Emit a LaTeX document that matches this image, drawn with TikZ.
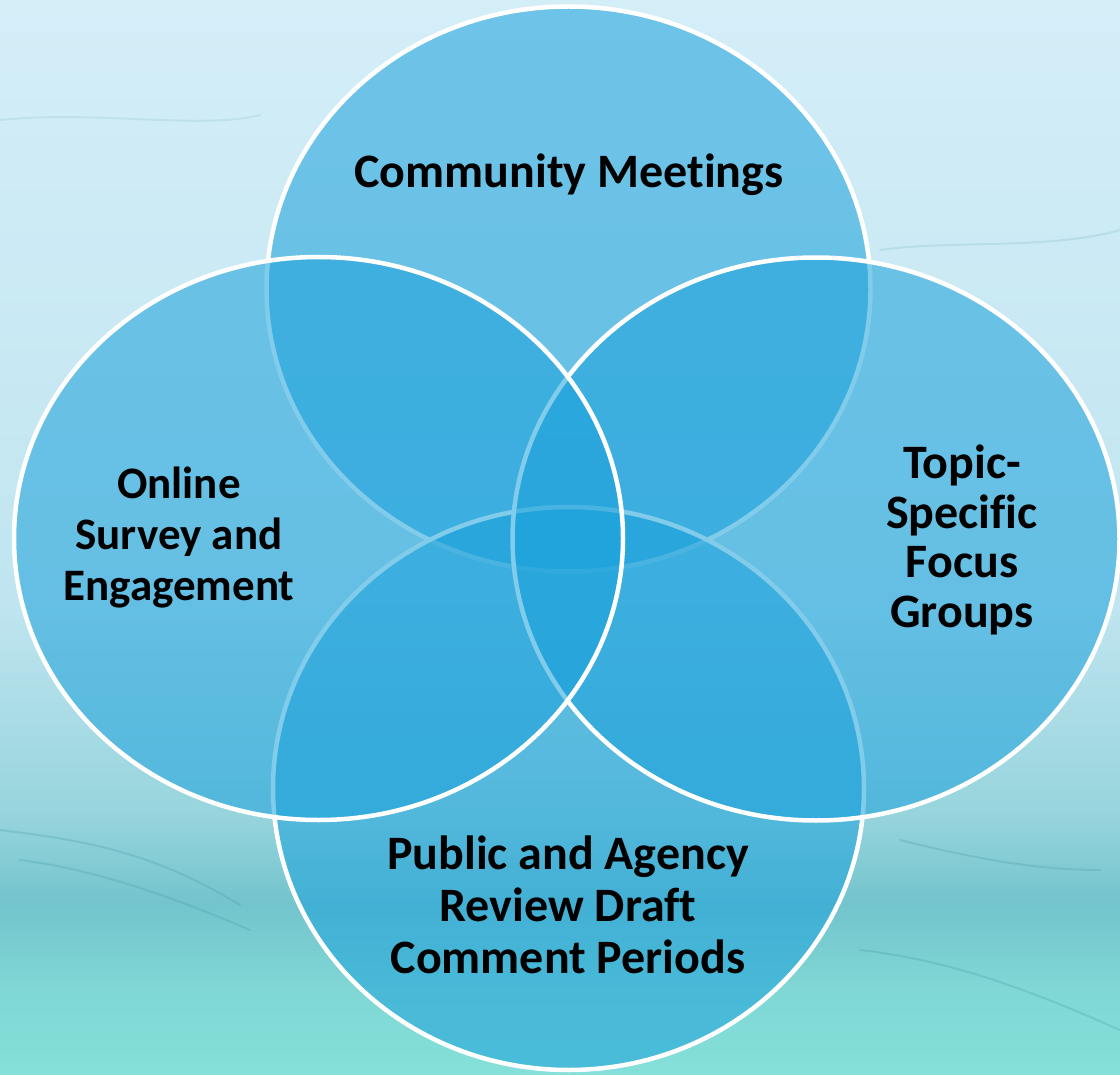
\documentclass[tikz,border=0pt]{standalone}
\usepackage{fontspec}
\setmainfont{Carlito}[Ligatures=NoCommon]
\usetikzlibrary{shapes.geometric}
\definecolor{circfill}{RGB}{27,161,219}
\definecolor{streak}{RGB}{70,150,165}
\definecolor{bgA}{RGB}{132,224,216}
\definecolor{bgB}{RGB}{128,215,212}
\definecolor{bgC}{RGB}{115,196,205}
\definecolor{bgD}{RGB}{150,212,220}
\definecolor{bgE}{RGB}{192,229,240}
\definecolor{bgF}{RGB}{212,238,248}
\pgfdeclareverticalshading{bgshade}{100bp}{%
  color(0bp)=(bgA); color(25bp)=(bgA); color(29bp)=(bgB); color(33bp)=(bgC);
  color(37bp)=(bgD); color(47bp)=(bgE); color(75bp)=(bgF); color(100bp)=(bgF)}
\begin{document}
\begin{tikzpicture}[x=1pt,y=-1pt,
  venn/.style={ellipse, inner sep=0pt, draw=white, line width=4.5pt,
    fill=circfill, fill opacity=0.55, draw opacity=1},
  lbl/.style={font=\bfseries\fontsize{48}{52}\selectfont, align=center, text=black},
  wave/.style={draw=streak, line width=2pt, draw opacity=0.25, line cap=round}]
\useasboundingbox (0,0) rectangle (1120,1075);
% background
\shade[shading=bgshade] (0,0) rectangle (1120,1075);
\draw[wave] (0,830) .. controls (80,840) and (150,850) .. (240,905);
\draw[wave] (20,860) .. controls (100,870) and (180,900) .. (250,930);
\draw[wave] (900,840) .. controls (980,860) and (1040,870) .. (1100,870);
\draw[wave] (860,950) .. controls (950,960) and (1030,990) .. (1120,1030);
\draw[wave, draw opacity=0.15] (880,250) .. controls (950,240) and (1050,250) .. (1120,230);
\draw[wave, draw opacity=0.12] (0,120) .. controls (100,110) and (200,130) .. (260,115);
% circles
\node[venn, minimum width=604pt, minimum height=565pt] (top) at (568.5,289) {};
\node[venn, minimum width=591pt, minimum height=563pt] (bottom) at (568.5,788.5) {};
\node[venn, minimum width=607pt, minimum height=563pt] (right) at (816,539) {};
\node[venn, minimum width=609pt, minimum height=563pt] (left) at (318.5,538.5) {};
% labels
\node[lbl, anchor=base] (tcm) at (569,188) {Community Meetings};
\node[lbl, font=\bfseries\fontsize{45}{51}\selectfont] (tos) at (179,538) {Online\\Survey and\\Engagement};
\node[lbl, font=\bfseries\fontsize{48}{49.5}\selectfont] (tts) at (962,540) {Topic-\\Specific\\Focus\\Groups};
\node[lbl] (tpa) at (568,905) {Public and Agency\\Review Draft\\Comment Periods};
\end{tikzpicture}
\end{document}
